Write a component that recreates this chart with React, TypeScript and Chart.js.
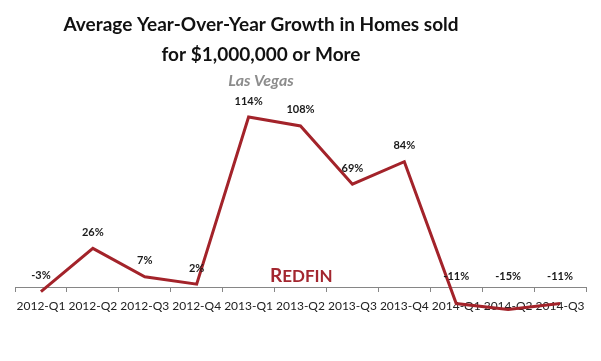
import React, { useEffect, useRef } from "react";
import { Chart, registerables } from "chart.js";

Chart.register(...registerables);

const categories = [
  "2012-Q1", "2012-Q2", "2012-Q3", "2012-Q4",
  "2013-Q1", "2013-Q2", "2013-Q3", "2013-Q4",
  "2014-Q1", "2014-Q2", "2014-Q3",
];
const growth = [-3, 26, 7, 2, 114, 108, 69, 84, -11, -15, -11];
const titleLines = ["Average Year-Over-Year Growth in Homes sold", "for $1,000,000 or More"];
const subtitleText = "Las Vegas";

const FONT = "Lato, 'Open Sans', sans-serif";

const overlayPlugin = {
  id: "overlay",
  afterDatasetsDraw(chart: any) {
    const ctx = chart.ctx as CanvasRenderingContext2D;
    const meta = chart.getDatasetMeta(0);
    const zeroY = chart.scales.y.getPixelForValue(0);
    ctx.save();
    ctx.fillStyle = "#1a1a1a";
    ctx.font = `bold 11px ${FONT}`;
    ctx.textAlign = "center";
    ctx.textBaseline = "middle";
    meta.data.forEach((pt: any, i: number) => {
      const y = Math.min(pt.y - 16, zeroY - 11);
      ctx.fillText(`${growth[i]}%`, pt.x, y);
    });
    ctx.restore();
  },
  afterDraw(chart: any) {
    const ctx = chart.ctx as CanvasRenderingContext2D;
    ctx.save();
    ctx.textAlign = "center";
    ctx.textBaseline = "middle";
    ctx.fillStyle = "#111111";
    ctx.font = `bold 19px ${FONT}`;
    ctx.fillText(titleLines[0], 261, 25);
    ctx.fillText(titleLines[1], 261, 55);
    ctx.fillStyle = "#8c8c8c";
    ctx.font = `italic bold 16px ${FONT}`;
    ctx.fillText(subtitleText, 261, 81);
    // Redfin watermark
    ctx.fillStyle = "#a3262f";
    ctx.textAlign = "left";
    ctx.textBaseline = "alphabetic";
    ctx.font = `bold 19px ${FONT}`;
    ctx.fillText("R", 270, 282);
    const rw = ctx.measureText("R").width;
    ctx.font = `bold 17px ${FONT}`;
    ctx.fillText("EDFIN", 270 + rw, 282);
    ctx.restore();
  },
};

export default function App() {
  const ref = useRef<HTMLCanvasElement | null>(null);
  useEffect(() => {
    document.body.style.margin = "0";
    if (!ref.current) return;
    const chart = new Chart(ref.current, {
      type: "line",
      data: {
        labels: categories,
        datasets: [
          {
            data: growth,
            borderColor: "#a3232a",
            borderWidth: 3,
            pointRadius: 0,
            tension: 0,
            fill: false,
          },
        ],
      },
      options: {
        animation: false,
        responsive: false,
        layout: { padding: { top: 108, bottom: 44, left: 15, right: 15 } },
        plugins: { legend: { display: false }, tooltip: { enabled: false }, title: { display: false } },
        scales: {
          y: { display: false, min: -20, max: 120 },
          x: {
            position: { y: 0 } as any,
            offset: true,
            afterFit: (s: any) => { s.height = 0; },
            grid: { drawOnChartArea: false, drawTicks: true, tickLength: 4, offset: true, color: "#868686" },
            border: { display: true, color: "#868686", width: 1 },
            ticks: { color: "#222222", font: { family: FONT, size: 12 }, padding: 8, maxRotation: 0, autoSkip: false },
          },
        },
      },
      plugins: [overlayPlugin],
    });
    return () => chart.destroy();
  }, []);
  return (
    <div style={{ width: 601, height: 361 }}>
      <canvas ref={ref} width={601} height={361} style={{ display: "block" }} />
    </div>
  );
}
